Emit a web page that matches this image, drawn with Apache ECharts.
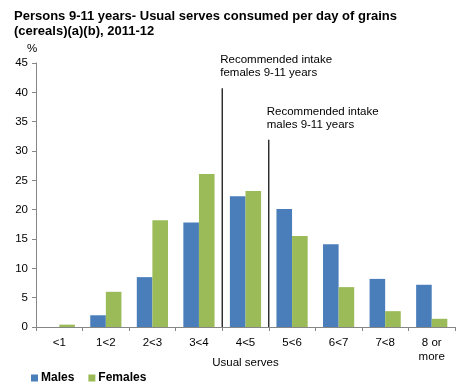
<!DOCTYPE html>
<html>
<head>
<meta charset="utf-8">
<script src="https://cdn.jsdelivr.net/npm/echarts@6/dist/echarts.min.js"></script>
<style>
  html, body { margin: 0; padding: 0; background: #fff; }
  #chart { width: 460px; height: 388px; }
</style>
</head>
<body>
<div id="chart"></div>
<script>
// categories and values
var categories = ["<1", "1<2", "2<3", "3<4", "4<5", "5<6", "6<7", "7<8", "8 or\nmore"];
var males = [0, 2.0, 8.5, 17.8, 22.3, 20.1, 14.1, 8.2, 7.2];
var females = [0.4, 6.0, 18.2, 26.1, 23.2, 15.5, 6.8, 2.7, 1.4];
var yTicks = [0, 5, 10, 15, 20, 25, 30, 35, 40, 45];
// recommended intake markers: position on the serves scale, height of the line (%)
var recPos = [4, 5];
var recTop = [40.7, 31.9];
var recText = ["Recommended intake\nfemales 9-11 years", "Recommended intake\nmales 9-11 years"];

var font = "Liberation Sans, Arial, sans-serif";
var chart = echarts.init(document.getElementById("chart"));

var recSeries = recPos.map(function (p, i) {
  return {
    name: "rec" + i,
    type: "line",
    xAxisIndex: 1,
    symbol: "circle",
    symbolSize: 0,
    silent: true,
    animation: false,
    lineStyle: { color: "#000", width: 1.2 },
    data: [
      [p, 0],
      {
        value: [p, recTop[i]],
        label: {
          show: true,
          position: "top",
          align: "left",
          distance: 9,
          offset: [-2, 0],
          formatter: recText[i],
          color: "#000",
          fontFamily: font,
          fontSize: 11.5,
          lineHeight: 13
        }
      }
    ]
  };
});

chart.setOption({
  animation: false,
  title: {
    text: "Persons 9-11 years- Usual serves consumed per day of grains\n(cereals)(a)(b), 2011-12",
    left: 9,
    top: 4,
    textStyle: { fontFamily: font, fontSize: 13, fontWeight: "bold", color: "#000", lineHeight: 15 }
  },
  legend: {
    data: ["Males", "Females"],
    left: 26,
    top: 367,
    itemWidth: 7,
    itemHeight: 7,
    itemGap: 14,
    icon: "rect",
    textStyle: { fontFamily: font, fontSize: 12, fontWeight: "bold", color: "#000", padding: [0, 0, 0, -2] }
  },
  grid: { left: 36, right: 5, top: 63, bottom: 61, containLabel: false },
  xAxis: [
    {
      type: "category",
      data: categories,
      name: "Usual serves",
      nameLocation: "middle",
      nameGap: 30,
      nameMoveOverlap: false,
      nameTextStyle: { fontFamily: font, fontSize: 11.5, color: "#000" },
      axisLine: { lineStyle: { color: "#868686" } },
      axisTick: { show: true, length: 4, lineStyle: { color: "#868686" } },
      axisLabel: { fontFamily: font, fontSize: 11.5, color: "#000", margin: 9, lineHeight: 14, interval: 0 }
    },
    {
      type: "value",
      min: 0,
      max: categories.length,
      show: false
    }
  ],
  yAxis: {
    type: "value",
    min: yTicks[0],
    max: yTicks[yTicks.length - 1],
    interval: yTicks[1] - yTicks[0],
    name: "%",
    nameLocation: "end",
    nameGap: 8,
    nameTextStyle: { fontFamily: font, fontSize: 11.5, color: "#000", padding: [0, 8, 0, 0] },
    axisLine: { show: true, lineStyle: { color: "#868686" } },
    axisTick: { show: true, length: 4, lineStyle: { color: "#868686" } },
    axisLabel: { fontFamily: font, fontSize: 11.5, color: "#000", margin: 8 },
    splitLine: { show: false }
  },
  series: [
    {
      name: "Males",
      type: "bar",
      data: males,
      barGap: "0%",
      barCategoryGap: "33%",
      itemStyle: { color: "#4a7ebb" }
    },
    {
      name: "Females",
      type: "bar",
      data: females,
      itemStyle: { color: "#9bbb59" }
    }
  ].concat(recSeries)
});
</script>
</body>
</html>
